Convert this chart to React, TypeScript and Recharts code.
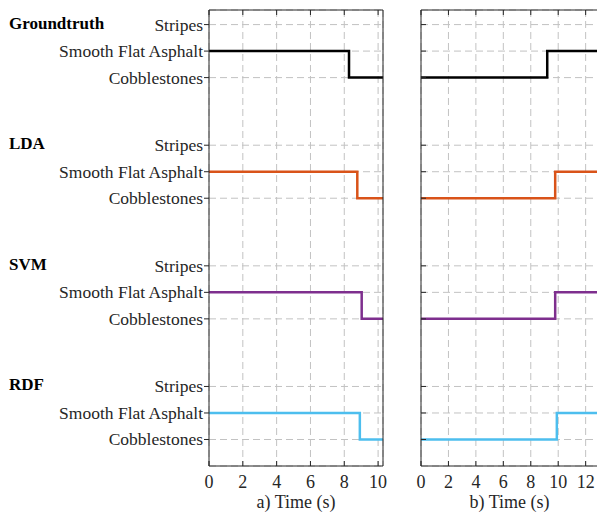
import { LineChart, Line, XAxis, YAxis, CartesianGrid } from 'recharts';

const methods = ['Groundtruth', 'LDA', 'SVM', 'RDF'];
const methodColors = ['#000000', '#D95319', '#7E2F8E', '#4DBEEE'];
const classes = ['Cobblestones', 'Smooth Flat Asphalt', 'Stripes'];
// vertical offset of each method's block (Cobblestones level)
const groupBase = [14.65, 10.1, 5.55, 1];

// a) asphalt -> cobblestones
const switchA = [8.28, 8.77, 9.03, 8.92];
// b) cobblestones -> asphalt
const switchB = [9.2, 9.78, 9.78, 9.9];
const endA = 10.29;
const endB = 12.9;
const xTicksA = [0, 2, 4, 6, 8, 10];
const xTicksB = [0, 2, 4, 6, 8, 10, 12];

const FONT = '"Liberation Serif", "Times New Roman", serif';
const INK = '#262626';
const GRID = '#c2c2c2';

const yTicks = groupBase.flatMap(b => classes.map((_, l) => b + l));

function levelOf(v: number) {
  for (let g = 0; g < groupBase.length; g++) {
    for (let l = 0; l < classes.length; l++) {
      if (Math.abs(groupBase[g] + l - v) < 1e-6) return { g, l };
    }
  }
  return { g: 0, l: 0 };
}

function seriesA(i: number) {
  const b = groupBase[i];
  return [
    { x: 0, y: b + 1 },
    { x: switchA[i], y: b },
    { x: endA, y: b },
  ];
}

function seriesB(i: number) {
  const b = groupBase[i];
  return [
    { x: 0, y: b },
    { x: switchB[i], y: b + 1 },
    { x: endB, y: b + 1 },
  ];
}

function LeftTick(props: any) {
  const { x, y, payload } = props;
  const { g, l } = levelOf(payload.value);
  return (
    <g>
      <text x={x} y={y} dy={6} textAnchor="end" fontSize={17.5} fontFamily={FONT} fill={INK}>
        {classes[l]}
      </text>
      {l === 2 && (
        <text x={9} y={y} dy={4} textAnchor="start" fontSize={17} fontWeight="bold" fontFamily={FONT} fill="#000">
          {methods[g]}
        </text>
      )}
    </g>
  );
}

const blank = () => '';
const tickStyle = { fontSize: 18, fill: INK, fontFamily: FONT };

export default function App() {
  return (
    <div style={{ position: 'absolute', left: 0, top: 0, width: 597, height: 513, overflow: 'hidden', background: '#fff' }}>
      <div style={{ position: 'absolute', left: 0, top: 0 }}>
        <LineChart width={400} height={513} margin={{ top: 5, right: 12, bottom: 0, left: 0 }}>
          <CartesianGrid xAxisId="b" yAxisId="l" stroke={GRID} strokeDasharray="7 4" />
          <XAxis xAxisId="b" type="number" dataKey="x" domain={[0, endA]} ticks={xTicksA} allowDataOverflow
            height={47} tickSize={-5} tickMargin={14} interval={0} stroke={INK} tick={tickStyle}
            label={{ value: 'a) Time (s)', position: 'insideBottom', offset: 5, fontSize: 18, fill: INK, fontFamily: FONT }} />
          <XAxis xAxisId="t" orientation="top" type="number" dataKey="x" domain={[0, endA]} ticks={xTicksA} allowDataOverflow
            height={5} tickSize={-5} tickFormatter={blank} stroke={INK} />
          <YAxis yAxisId="l" type="number" domain={[0, 17.2]} ticks={yTicks} interval={0} width={209}
            tickSize={5} tickMargin={1} stroke={INK} tick={<LeftTick />} />
          <YAxis yAxisId="r" orientation="right" type="number" domain={[0, 17.2]} ticks={yTicks} interval={0} width={5}
            tickSize={-5} tickFormatter={blank} stroke={INK} />
          {methods.map((m, i) => (
            <Line key={m} xAxisId="b" yAxisId="l" data={seriesA(i)} dataKey="y" type="stepAfter"
              stroke={methodColors[i]} strokeWidth={2.5} dot={false} isAnimationActive={false} />
          ))}
        </LineChart>
      </div>
      <div style={{ position: 'absolute', left: 400, top: 0 }}>
        <LineChart width={203} height={513} margin={{ top: 5, right: 0, bottom: 0, left: 0 }}>
          <CartesianGrid xAxisId="b" yAxisId="l" stroke={GRID} strokeDasharray="7 4" />
          <XAxis xAxisId="b" type="number" dataKey="x" domain={[0, endB]} ticks={xTicksB} allowDataOverflow
            height={47} tickSize={-5} tickMargin={14} interval={0} stroke={INK} tick={tickStyle}
            label={{ value: 'b) Time (s)', position: 'insideBottom', offset: 5, fontSize: 18, fill: INK, fontFamily: FONT }} />
          <XAxis xAxisId="t" orientation="top" type="number" dataKey="x" domain={[0, endB]} ticks={xTicksB} allowDataOverflow
            height={5} tickSize={-5} tickFormatter={blank} stroke={INK} />
          <YAxis yAxisId="l" type="number" domain={[0, 17.2]} ticks={yTicks} interval={0} width={21}
            tickSize={-5} tickFormatter={blank} stroke={INK} />
          <YAxis yAxisId="r" orientation="right" type="number" domain={[0, 17.2]} ticks={yTicks} interval={0} width={5}
            tickSize={-5} tickFormatter={blank} stroke={INK} />
          {methods.map((m, i) => (
            <Line key={m} xAxisId="b" yAxisId="l" data={seriesB(i)} dataKey="y" type="stepAfter"
              stroke={methodColors[i]} strokeWidth={2.5} dot={false} isAnimationActive={false} />
          ))}
        </LineChart>
      </div>
    </div>
  );
}
